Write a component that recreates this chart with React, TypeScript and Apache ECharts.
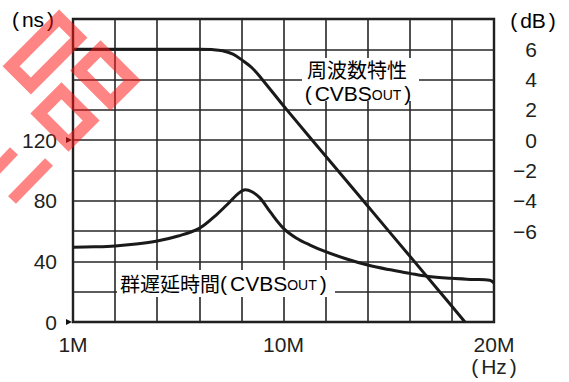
import React, { useEffect, useRef } from 'react';
import * as echarts from 'echarts';

// Frequency positions are in grid divisions: 1M = 0, 10M = 5, 20M = 10.
const xTickLabels: Record<number, string> = { 0: '1M', 5: '10M', 10: '20M' };

// 周波数特性 (dB)
const responsePos = [0, 1, 2, 3, 3.3, 3.55, 3.8, 4.01, 4.25, 4.48, 5.08, 6.29, 7.5, 8.71, 9.31];
const responseDb = [6, 6, 6, 6, 5.98, 5.91, 5.68, 5.3, 4.78, 4.06, 2.0, -2, -6, -10, -12];

// 群遅延時間 (ns)
const delayPos = [0, 0.5, 1, 1.5, 2, 2.5, 3, 3.4, 3.73, 3.93, 4.09, 4.25, 4.45, 4.68, 5.0, 5.3, 5.63, 6.0, 6.5, 7.0, 7.5, 8.0, 8.4, 9.0, 9.5, 9.9, 10];
const delayNs = [49.3, 49.6, 50.2, 51.5, 53.5, 56.8, 61.8, 70.6, 79.4, 84.9, 87.3, 86.0, 81.6, 72.8, 61.8, 55.5, 50.8, 46.4, 41.6, 37.6, 34.6, 32.1, 30.2, 28.8, 28.1, 27.6, 25.8];

const nsLabels = [0, 40, 80, 120];
const dbLabels = [6, 4, 2, 0, -2, -4, -6];

const INK = '#231f20';
const GRIDLINE = '#262626';
const LATIN = '"Liberation Sans", Arial, Helvetica, sans-serif';
const CJK = '"Noto Sans CJK JP", "Liberation Sans", sans-serif';
const STAMP = 'rgba(255, 20, 20, 0.52)';

const richParts = {
  j: { fontFamily: CJK, fontSize: 20, color: INK, lineHeight: 20 },
  b: { fontFamily: LATIN, fontSize: 21, color: INK, lineHeight: 20 },
  s: { fontFamily: LATIN, fontSize: 14, color: INK, lineHeight: 17, padding: [3, 0, 0, 0] },
  lp: { fontFamily: LATIN, fontSize: 21, color: INK, lineHeight: 20, padding: [0, 3, 0, 0] },
  rp: { fontFamily: LATIN, fontSize: 21, color: INK, lineHeight: 20, padding: [0, 0, 0, 3] },
};

export default function App() {
  const ref = useRef<HTMLDivElement>(null);

  useEffect(() => {
    if (!ref.current) return;
    const chart = echarts.init(ref.current, null, { renderer: 'svg' });

    const responseData = responsePos.map((p, i) => [p, responseDb[i]]);
    const delayData = delayPos.map((p, i) => [p, delayNs[i]]);

    const textEl = (x: number, y: number, text: string, align = 'center') => ({
      type: 'text',
      x,
      y,
      z: 110,
      style: { text, align, verticalAlign: 'middle', rich: richParts },
    });

    chart.setOption({
      animation: false,
      backgroundColor: '#ffffff',
      grid: {
        left: 73,
        top: 19,
        right: 75,
        bottom: 60,
        show: true,
        borderColor: '#111',
        borderWidth: 2.4,
      },
      xAxis: {
        type: 'value',
        min: 0,
        max: 10,
        interval: 1,
        axisLine: { show: false },
        axisTick: { show: false },
        splitLine: { show: true, lineStyle: { color: GRIDLINE, width: 1.6 } },
        axisLabel: {
          margin: 11,
          formatter: (v: number) => {
            const t = xTickLabels[v];
            if (!t) return '';
            return v === 10 ? `{t|${t}}\n{lp|(}{t|Hz}{rp|)}` : `{t|${t}}`;
          },
          rich: {
            t: { fontFamily: LATIN, fontSize: 21, color: INK, lineHeight: 22 },
            lp: { fontFamily: LATIN, fontSize: 21, color: INK, lineHeight: 22, padding: [0, 3, 0, 0] },
            rp: { fontFamily: LATIN, fontSize: 21, color: INK, lineHeight: 22, padding: [0, 0, 0, 3] },
          },
        },
      },
      yAxis: [
        {
          type: 'value',
          position: 'left',
          min: 0,
          max: 200,
          interval: 20,
          axisLine: { show: false },
          axisTick: { show: false },
          splitLine: { show: true, lineStyle: { color: GRIDLINE, width: 1.6 } },
          axisLabel: {
            margin: 16,
            color: INK,
            fontFamily: LATIN,
            fontSize: 21,
            formatter: (v: number) => (nsLabels.includes(v) ? String(v) : ''),
          },
        },
        {
          type: 'value',
          position: 'right',
          min: -12,
          max: 8,
          interval: 2,
          axisLine: { show: false },
          axisTick: { show: false },
          splitLine: { show: false },
          axisLabel: {
            margin: 43,
            align: 'right',
            color: INK,
            fontFamily: LATIN,
            fontSize: 21,
            formatter: (v: number) =>
              dbLabels.includes(v) ? (v < 0 ? '\u2212' + Math.abs(v) : String(v)) : '',
          },
        },
      ],
      series: [
        {
          name: '周波数特性',
          type: 'line',
          yAxisIndex: 1,
          data: responseData,
          smooth: 0.35,
          showSymbol: false,
          lineStyle: { color: '#1a1a1a', width: 3 },
          z: 5,
        },
        {
          name: '群遅延時間',
          type: 'line',
          yAxisIndex: 0,
          data: delayData,
          smooth: 0.35,
          showSymbol: false,
          lineStyle: { color: '#1a1a1a', width: 3 },
          z: 5,
        },
      ],
      graphic: [
        // label boxes blank out the grid behind the captions
        { type: 'rect', z: 100, shape: { x: 302, y: 58, width: 117, height: 43 }, style: { fill: '#fff' } },
        textEl(357, 69, '{j|周波数特性}'),
        textEl(358, 93, '{lp|(}{b|CVBS}{s|OUT}{rp|)}'),
        { type: 'rect', z: 100, shape: { x: 117, y: 270, width: 218, height: 27 }, style: { fill: '#fff' } },
        textEl(120, 283, '{j|群遅延時間}{lp|(}{b|CVBS}{s|OUT}{rp|)}', 'left'),
        // unit captions
        textEl(33, 19, '{lp|(}{b|ns}{rp|)}'),
        textEl(533, 20, '{lp|(}{b|dB}{rp|)}'),
        // pointer marks on the delay axis
        { type: 'polygon', z: 110, shape: { points: [[66, 137], [72, 140], [66, 143]] }, style: { fill: '#111' } },
        { type: 'polygon', z: 110, shape: { points: [[66, 319], [72, 322], [66, 325]] }, style: { fill: '#111' } },
        // red stamp
        {
          type: 'rect', z: 200, x: 45, y: 52, rotation: Math.PI / 4,
          shape: { x: -34, y: -14, width: 68, height: 28 },
          style: { fill: 'none', stroke: STAMP, lineWidth: 12 },
        },
        {
          type: 'rect', z: 200, x: 105.5, y: 75.5, rotation: -Math.PI / 4,
          shape: { x: -22.5, y: -15.5, width: 45, height: 31 },
          style: { fill: 'none', stroke: STAMP, lineWidth: 12 },
        },
        {
          type: 'rect', z: 200, x: 65, y: 117, rotation: -Math.PI / 4,
          shape: { x: -21, y: -16, width: 42, height: 32 },
          style: { fill: 'none', stroke: STAMP, lineWidth: 12 },
        },
        {
          type: 'line', z: 200,
          shape: { x1: -6, y1: 172, x2: 14, y2: 151 },
          style: { stroke: STAMP, lineWidth: 11 },
        },
        {
          type: 'line', z: 200,
          shape: { x1: 49, y1: 162, x2: 12, y2: 200 },
          style: { stroke: STAMP, lineWidth: 11 },
        },
      ],
    });

    return () => chart.dispose();
  }, []);

  return (
    <div
      ref={ref}
      style={{ position: 'fixed', left: 0, top: 0, width: 569, height: 382, background: '#fff' }}
    />
  );
}
